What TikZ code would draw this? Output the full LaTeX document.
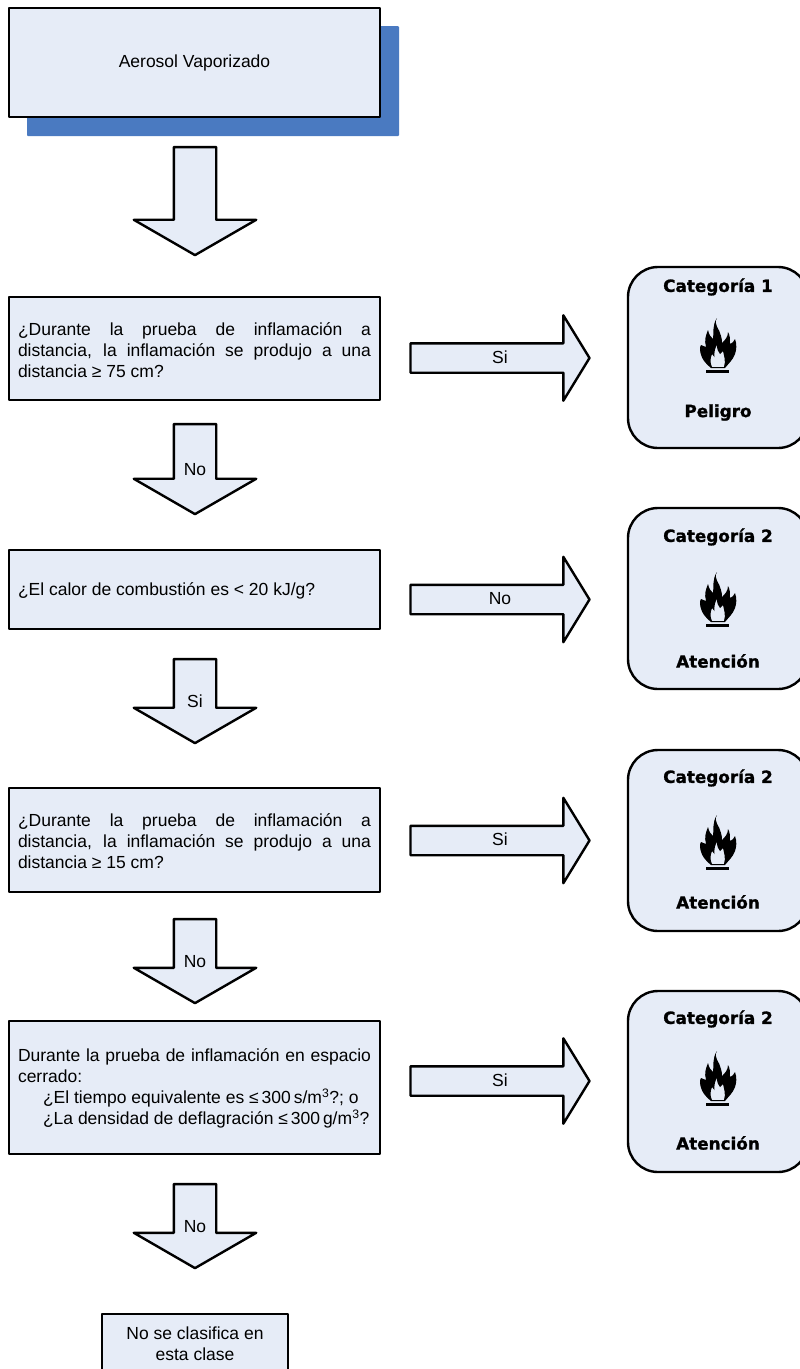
\documentclass[tikz,border=0pt]{standalone}
\usepackage{fontspec}
\setmainfont{Liberation Sans}
\newfontfamily\heavyfont[BoldFeatures={FakeBold=1.2}]{DejaVu Sans}
\usetikzlibrary{shapes.arrows}

\definecolor{boxfill}{HTML}{E6ECF7}
\definecolor{shadowblue}{HTML}{4A7AC1}

\tikzset{
  basetext/.style={font=\fontsize{17.5}{21}\selectfont},
  outline/.style={draw=black, line width=2.4pt, line join=round, fill=boxfill},
  textbox/.style={outline, basetext, rectangle, align=justify, text width=353pt, inner xsep=9pt, inner ysep=0pt, execute at begin node={\rule{0pt}{15.5pt}}},
  endbox/.style={outline, basetext, rectangle, align=center, inner sep=0pt},
  downarrow/.style={outline, single arrow, shape border rotate=270, inner sep=0pt, text width=40pt, minimum width=120pt, single arrow head extend=40pt, single arrow tip angle=120, single arrow head indent=0pt},
  rightarrow/.style={outline, single arrow, inner sep=0pt, text height=27pt, text depth=0pt, minimum width=83pt, minimum height=179pt, single arrow head extend=28pt, single arrow tip angle=117, single arrow head indent=0pt},
  downlabel/.style={basetext, yshift=-6.5pt},
  rightlabel/.style={basetext, xshift=4.5pt, yshift=1pt},
  catbox/.style={outline, rectangle, rounded corners=30pt, minimum width=180pt, minimum height=181pt},
  cattitle/.style={inner sep=0pt, font=\heavyfont\bfseries\fontsize{16.8}{18}\selectfont},
  pics/flame/.style={code={
    \fill (-12.3,24) rectangle (11.3,26.7);
    \fill[even odd rule] (-1,-28) .. controls (-5,-21) and (2,-17) .. (3,-10) .. controls (4,-7) and (4,-5) .. (4,-3)
      .. controls (7,-6) and (10,-9) .. (10,-14) .. controls (12,-11) and (12,-7) .. (12,-2)
      .. controls (14,-3) and (16,-4) .. (17,-7) .. controls (19,-2) and (18.5,4) .. (17,8)
      .. controls (15,14) and (10,18) .. (7,22) -- (-7,22)
      .. controls (-12,18) and (-17,13) .. (-18,4) .. controls (-18,2) and (-18,0) .. (-17,-1)
      .. controls (-15,0) and (-14,0) .. (-12,1) .. controls (-14,-6) and (-12,-11) .. (-10,-16)
      .. controls (-9,-11) and (-7,-9) .. (-5,-7) .. controls (-4,-13) and (-6,-21) .. (-1,-28) -- cycle
      (-6,21) .. controls (-8,17) and (-8,13) .. (-6,8) .. controls (-5,9) and (-4,10) .. (-3.5,11)
      .. controls (-4,6) and (-3,2) .. (-1,-1) .. controls (-1,3) and (0,6) .. (2,8)
      .. controls (3,7) and (4,6) .. (5,5) .. controls (6,10) and (8,15) .. (6,21) -- cycle;
  }}
}

\begin{document}
\begin{tikzpicture}[x=1pt, y=-1pt]
\useasboundingbox (0,0) rectangle (800,1369);
\clip (0,0) rectangle (800,1369);

% start box and its shadow
\fill[shadowblue, rounded corners=1pt] (27,26) rectangle (399,136);
\path (194.5,62.5) node[endbox, minimum width=371pt, minimum height=109pt] (start) {\raisebox{-2.5pt}{Aerosol Vaporizado}};

% question boxes
\path (194.5,348.5) node[textbox, minimum height=103pt] (q1) {¿Durante la prueba de inflamación a\linebreak distancia, la inflamación se produjo a una\linebreak distancia ≥ 75 cm?};
\path (194.5,589.5) node[textbox, minimum height=79pt] (q2) {¿El calor de combustión es < 20 kJ/g?};
\path (194.5,840) node[textbox, minimum height=104pt] (q3) {¿Durante la prueba de inflamación a\linebreak distancia, la inflamación se produjo a una\linebreak distancia ≥ 15 cm?};
\path (194.5,1087.5) node[textbox, minimum height=133pt] (q4) {Durante la prueba de inflamación en espacio cerrado:\par
  \hspace*{25pt}¿El tiempo equivalente es ≤\,300\,s/m\textsuperscript{3}?; o\par
  \hspace*{25pt}¿La densidad de deflagración ≤\,300\,g/m\textsuperscript{3}?};

% last box
\path (195,1344) node[endbox, minimum width=186pt, minimum height=60pt] (noclass) {No se clasifica en\\esta clase};

% arrows going down
\path (195,195) node[downarrow, minimum height=108pt] (d0) {};
\path (195,463) node[downarrow, minimum height=90pt, label={[downlabel]center:No}] (d1) {};
\path (195,695) node[downarrow, minimum height=84pt, label={[downlabel]center:Si}] (d2) {};
\path (195,955) node[downarrow, minimum height=84pt, label={[downlabel]center:No}] (d3) {};
\path (195,1220) node[downarrow, minimum height=84pt, label={[downlabel]center:No}] (d4) {};

% arrows going right
\path (495.5,358) node[rightarrow, label={[rightlabel]center:Si}] (r1) {};
\path (495.5,599.5) node[rightarrow, label={[rightlabel]center:No}] (r2) {};
\path (495.5,840.5) node[rightarrow, label={[rightlabel]center:Si}] (r3) {};
\path (495.5,1081) node[rightarrow, label={[rightlabel]center:Si}] (r4) {};

% category boxes
\path (718,357.5) node[catbox] (c1) {};
\path (718,598.5) node[catbox] (c2) {};
\path (718,840.5) node[catbox] (c3) {};
\path (718,1081.5) node[catbox] (c4) {};

% category texts
\path (718,287) node[cattitle] (c1top) {Categoría 1};
\path (718,412.5) node[cattitle] (c1low) {Peligro};
\path (718,537) node[cattitle] (c2top) {Categoría 2};
\path (718,661) node[cattitle] (c2low) {Atención};
\path (718,778) node[cattitle] (c3top) {Categoría 2};
\path (718,902) node[cattitle] (c3low) {Atención};
\path (718,1019) node[cattitle] (c4top) {Categoría 2};
\path (718,1143) node[cattitle] (c4low) {Atención};

% flames
\path (718,346) pic {flame};
\path (718,600) pic {flame};
\path (718,843) pic {flame};
\path (718,1079) pic {flame};

\end{tikzpicture}
\end{document}
